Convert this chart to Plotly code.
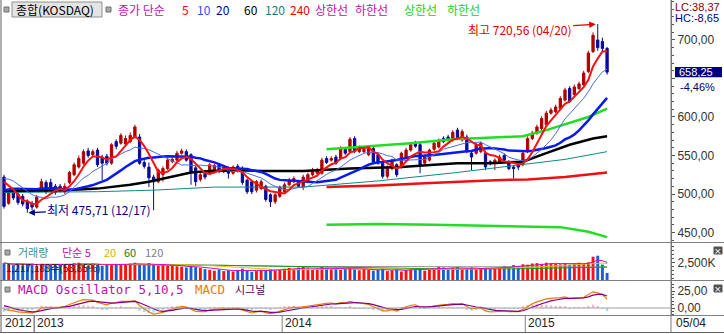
import plotly.graph_objects as go
import pandas as pd

W, H = 724, 334

# ---------------- data (weekly KOSDAQ, 2012-11-12 .. 2015-05-04) ----------------
opens = [522, 488, 503, 500, 497, 490, 488, 483, 505, 515, 515, 510, 510, 503, 515, 525, 535, 540, 556, 551,
         557, 548, 549, 540, 568, 566, 565, 568, 574, 574, 541, 535, 522, 516, 525, 533, 542, 544, 553, 555,
         551, 534, 519, 529, 527, 529, 538, 529, 533, 527, 536, 533, 518, 516, 505, 507, 510, 499, 490, 497,
         503, 512, 516, 516, 509, 516, 525, 527, 527, 546, 544, 548, 546, 558, 555, 572, 555, 555, 551, 559,
         551, 540, 523, 533, 538, 535, 548, 557, 566, 564, 540, 544, 558, 561, 572, 574, 570, 583, 570, 574,
         553, 553, 555, 553, 542, 540, 542, 550, 542, 535, 537, 538, 555, 572, 579, 585, 590, 605, 607, 611,
         622, 637, 629, 637, 642, 659, 685, 700, 698, 689]
highs = [525, 506, 507, 503, 500, 493, 491, 499, 520, 518, 520, 513, 513, 514, 530, 541, 550, 558, 560, 558,
         560, 551, 552, 566, 571, 579, 576, 580, 590, 578, 544, 541, 525, 533, 536, 547, 548, 556, 559, 558,
         553, 537, 527, 531, 540, 539, 540, 537, 536, 537, 539, 536, 520, 518, 518, 519, 512, 501, 501, 511,
         515, 521, 523, 518, 525, 528, 534, 534, 547, 549, 549, 551, 562, 561, 574, 575, 563, 561, 562, 562,
         553, 542, 537, 546, 540, 555, 560, 567, 569, 567, 551, 559, 568, 572, 575, 577, 583, 586, 584, 577,
         555, 566, 568, 556, 544, 546, 551, 553, 544, 537, 539, 555, 575, 582, 590, 601, 608, 612, 616, 627,
         638, 640, 642, 646, 660, 686, 710, 720.56, 703, 691]
lows = [481, 486, 492, 486, 484, 475.71, 479, 481, 503, 500, 503, 499, 502, 500, 513, 523, 533, 538, 547, 548,
        535, 518, 537, 538, 558, 564, 563, 566, 572, 538, 533, 509, 479, 514, 516, 531, 540, 542, 551, 542,
        512, 510, 516, 519, 525, 527, 527, 527, 520, 525, 528, 512, 500, 500, 502, 505, 490, 483, 487, 495,
        500, 510, 514, 508, 505, 514, 523, 525, 525, 539, 542, 538, 544, 551, 553, 553, 553, 553, 549, 540,
        538, 520, 520, 531, 522, 533, 546, 555, 560, 527, 538, 542, 556, 559, 566, 568, 568, 571, 568, 553,
        531, 551, 553, 531, 537, 531, 540, 542, 531, 520, 531, 536, 553, 570, 577, 583, 588, 603, 605, 609,
        620, 618, 626, 635, 640, 657, 683, 686, 684, 655]
closes = [484, 503, 495, 489, 487, 481, 483, 496, 516, 503, 506, 502, 505, 510, 528, 538, 546, 555, 550, 555,
          538, 540, 540, 564, 562, 576, 572, 576, 587, 540, 536, 521, 516, 531, 533, 544, 545, 553, 556, 544,
          529, 516, 525, 522, 538, 537, 529, 535, 527, 535, 530, 515, 503, 503, 516, 516, 493, 490, 499, 509,
          512, 518, 520, 510, 522, 525, 531, 531, 544, 541, 546, 540, 559, 553, 571, 555, 561, 558, 559, 542,
          540, 523, 535, 544, 525, 553, 557, 564, 562, 538, 548, 557, 566, 569, 568, 570, 580, 573, 581, 555,
          548, 564, 566, 535, 540, 544, 548, 544, 533, 533, 535, 553, 572, 579, 587, 598, 605, 609, 613, 624,
          635, 620, 639, 643, 657, 683, 706, 690, 689, 658.25]
volumes = [2450, 2300, 2200, 2380, 2150, 2250, 2400, 2100, 2350, 2200, 2300, 2150, 2250,
           2200, 2350, 2450, 2500, 2300, 2150, 2400, 2250, 2100, 2300, 2200, 2350, 2250,
           2300, 2400, 2500, 2350, 2200, 2450, 2300, 2150, 2250, 2100, 2200, 2050,
           2000, 1900, 2100, 1950, 1850,
           1700, 1600, 1500, 1650, 1450, 1550, 1400, 1600, 1750, 1500, 1350, 1450, 1600, 1550, 1700, 1500, 1650,
           1750, 1850, 1700, 1900, 2000, 1800, 1650, 1750, 1950, 1850, 1700, 1800, 1600, 1750, 1900, 1650, 1550, 1700,
           1600, 1500, 1650, 1750, 1450, 1550, 1700, 1400, 1600, 1750, 1650, 1800, 1500, 1600,
           1800, 2000, 1900, 1700, 1850, 1950, 1750, 1800, 1900, 1650, 1750, 1850, 1700, 1800, 1900,
           2100, 2000, 2200, 2050, 2300, 2250,
           2400, 2450, 2350, 2500, 2420, 2380,
           2300, 2450, 2250, 2400, 2500, 2350, 2550,
           3250, 3375, 2260, 1217]
# closes of the weeks before the first visible candle (for the short averages)
pre_closes = [478, 482, 488, 492, 495, 490, 487, 493, 497, 498, 510, 520, 528, 533, 530, 525, 522, 524, 524]

# long averages / bands (week index, value)
ma60_wk = [0, 13, 20, 27, 31, 36, 40, 44, 50, 55, 64, 74, 85, 92, 97, 104, 111, 116, 121, 126, 129]
ma60_val = [504, 505, 507, 512, 516, 523, 528, 530, 531, 530, 530, 533, 535, 538, 540, 540, 542, 553, 564, 572, 575]
ma120_wk = [0, 20, 32, 45, 64, 80, 97, 111, 120, 129]
ma120_val = [502, 503, 505, 509, 509, 517, 528, 538, 545, 555]
ma240_wk = [69, 80, 90, 97, 105, 112, 120, 129]
ma240_val = [509, 511, 514, 516, 518, 519, 522, 528]
band_up_wk = [69, 87, 96, 111, 116, 121, 125, 129]
band_up_val = [558, 566, 571, 575, 583, 592, 600, 611]
band_lo_wk = [69, 80, 92, 103, 112, 119, 125, 129]
band_lo_val = [460, 461, 460, 459, 458, 457, 451, 444]

year_labels = ["2013", "2014", "2015"]
year_weeks = [7, 60, 112]

# ---------------- derived series ----------------
n = len(closes)
wk = list(range(n))
npre = len(pre_closes)
allc = pd.Series(pre_closes + closes, dtype=float)
ma5 = allc.rolling(5).mean().iloc[npre:].tolist()
ma10 = allc.rolling(10).mean().iloc[npre:].tolist()
ma20 = allc.rolling(20).mean().iloc[npre:].tolist()
ema5 = allc.ewm(span=5, adjust=False).mean()
ema10 = allc.ewm(span=10, adjust=False).mean()
macd_s = ema5 - ema10
sig_s = macd_s.ewm(span=5, adjust=False).mean()
macd = macd_s.iloc[npre:].tolist()
sig = sig_s.iloc[npre:].tolist()
osc = [m - s for m, s in zip(macd, sig)]
vs = pd.Series(volumes, dtype=float)
v5 = vs.rolling(5, min_periods=1).mean().tolist()
v20 = vs.rolling(20, min_periods=1).mean().tolist()
v60 = vs.rolling(60, min_periods=1).mean().tolist()
v120 = vs.rolling(120, min_periods=1).mean().tolist()
vcol = ['#ff1010' if c >= o else '#1560d8' for o, c in zip(opens, closes)]
ocol = ['#f4b8c8' if v >= 0 else '#a8d8f0' for v in osc]

# ---------------- geometry helpers ----------------
def px(x):
    return x / W


def py(y):
    return 1 - y / H

X_L, X_R = 2, 671
SP = 4.675  # pixels per week
x0 = (X_L - 4) / SP
x1 = (X_R - 4) / SP

fig = go.Figure()

LN = dict(xaxis='x', yaxis='y', mode='lines', hoverinfo='skip', showlegend=False)
fig.add_trace(go.Scatter(x=band_lo_wk, y=band_lo_val, line=dict(color='#22dd22', width=2.5), **LN))
fig.add_trace(go.Scatter(x=band_up_wk, y=band_up_val, line=dict(color='#22dd22', width=2.5), **LN))
fig.add_trace(go.Scatter(x=ma240_wk, y=ma240_val, line=dict(color='#ee1111', width=2.5), **LN))
fig.add_trace(go.Scatter(x=ma120_wk, y=ma120_val, line=dict(color='#108888', width=1), **LN))
fig.add_trace(go.Scatter(x=ma60_wk, y=ma60_val, line=dict(color='#000000', width=2.5), **LN))

fig.add_trace(go.Candlestick(
    x=wk, open=opens, high=highs, low=lows, close=closes, xaxis='x', yaxis='y',
    increasing=dict(line=dict(color='#b00000', width=1), fillcolor='#b00000'),
    decreasing=dict(line=dict(color='#0a0a9a', width=1), fillcolor='#0a0a9a'),
    whiskerwidth=0, showlegend=False, hoverinfo='skip'))

fig.add_trace(go.Scatter(x=wk, y=ma20, line=dict(color='#0a1aee', width=2.5), **LN))
fig.add_trace(go.Scatter(x=wk, y=ma10, line=dict(color='#4a6cf0', width=1), **LN))
fig.add_trace(go.Scatter(x=wk, y=ma5, line=dict(color='#ff1010', width=2), **LN))

# volume
fig.add_trace(go.Bar(x=wk, y=volumes, marker=dict(color=vcol, line=dict(width=0)), width=0.62,
                     xaxis='x', yaxis='y2', showlegend=False, hoverinfo='skip'))
LV = dict(xaxis='x', yaxis='y2', mode='lines', hoverinfo='skip', showlegend=False)
fig.add_trace(go.Scatter(x=wk, y=v120, line=dict(color='#909090', width=1), **LV))
fig.add_trace(go.Scatter(x=wk, y=v60, line=dict(color='#10a010', width=1), **LV))
fig.add_trace(go.Scatter(x=wk, y=v20, line=dict(color='#e8c000', width=1), **LV))
fig.add_trace(go.Scatter(x=wk, y=v5, line=dict(color='#d010c0', width=1), **LV))

# MACD
fig.add_trace(go.Bar(x=wk, y=osc, marker=dict(color=ocol, line=dict(width=0)), width=0.5,
                     xaxis='x', yaxis='y3', showlegend=False, hoverinfo='skip'))
LM = dict(xaxis='x', yaxis='y3', mode='lines', hoverinfo='skip', showlegend=False)
fig.add_trace(go.Scatter(x=wk, y=macd, line=dict(color='#f07800', width=1.2), **LM))
fig.add_trace(go.Scatter(x=wk, y=sig, line=dict(color='#800080', width=1.2), **LM))

AX = dict(side='right', anchor='x', showline=True, linecolor='#777', linewidth=1, showgrid=False,
          zeroline=False, ticks='outside', ticklen=3, tickcolor='#555',
          tickfont=dict(family='Liberation Sans, Arial', size=12, color='#333'))
main_ticks = [450, 500, 550, 600, 650, 700]
main_text = ['450,00', '500,00', '550,00', '600,00', '', '700,00']

fig.update_layout(
    width=W, height=H, margin=dict(l=0, r=0, t=0, b=0),
    paper_bgcolor='white', plot_bgcolor='white', showlegend=False,
    xaxis=dict(domain=[px(X_L), px(X_R)], range=[x0, x1], showgrid=False, zeroline=False,
               showticklabels=False, ticks='', showline=False, anchor='y3', rangeslider=dict(visible=False)),
    yaxis=dict(domain=[py(242), 1], range=[437.7, 751.9], tickvals=main_ticks, ticktext=main_text,
               minor=dict(dtick=10, ticks='outside', ticklen=2, tickcolor='#555'), **AX),
    yaxis2=dict(domain=[py(280), py(243)], range=[337, 4962], tickvals=[2500, 5000], ticktext=['2,500K', ''],
                minor=dict(dtick=500, ticks='outside', ticklen=2, tickcolor='#555'), **AX),
    yaxis3=dict(domain=[py(315), py(281)], range=[-10.3, 39.7], tickvals=[0, 25], ticktext=['0,00', '25,00'],
                minor=dict(dtick=5, ticks='outside', ticklen=2, tickcolor='#555'), **AX),
)

shapes = []
def hline(y, x_a=0, x_b=W, color='#808080', w=1):
    shapes.append(dict(type='line', xref='paper', yref='paper', x0=px(x_a), x1=px(x_b), y0=py(y), y1=py(y),
                       line=dict(color=color, width=w)))

def vline(x, y_a, y_b, color='#808080', w=1, xref='paper'):
    xx = px(x) if xref == 'paper' else x
    shapes.append(dict(type='line', xref=xref, yref='paper', x0=xx, x1=xx, y0=py(y_a), y1=py(y_b),
                       line=dict(color=color, width=w)))

hline(242.5)
hline(280.5)
hline(315.5)
hline(332.5, color='#606060')
vline(1, 0, 333, color='#606060')
vline(X_R, 0, 333, color='#777')
for ywk in year_weeks:
    vline(ywk - 0.5, 316, 332, xref='x')
vline(34, 316, 332)
# zero line macd
shapes.append(dict(type='line', xref='paper', yref='y3', x0=px(X_L), x1=px(X_R), y0=0, y1=0,
                   line=dict(color='#a0a0a0', width=1)))
# small legend squares
def square(x, y, s=5, fill='#a8a8a8', edge='#707070'):
    shapes.append(dict(type='rect', xref='paper', yref='paper', x0=px(x), x1=px(x + s), y0=py(y), y1=py(y + s),
                       fillcolor=fill, line=dict(color=edge, width=1)))
square(4, 7)
square(106, 7)
square(5, 250)
square(5, 287)
# title button
shapes.append(dict(type='rect', xref='paper', yref='paper', x0=px(12), x1=px(102), y0=py(2), y1=py(17),
                   fillcolor='#e4e4e4', line=dict(color='#909090', width=1)))
# close boxes
for yb in (247, 285):
    shapes.append(dict(type='rect', xref='paper', yref='paper', x0=px(714), x1=px(722), y0=py(yb), y1=py(yb + 7),
                       fillcolor='#505050', line=dict(color='#505050', width=1)))
# current price box
shapes.append(dict(type='rect', xref='paper', yref='y', x0=px(675), x1=px(722), y0=651.5, y1=665,
                   fillcolor='#000080', line=dict(width=0)))
fig.update_layout(shapes=shapes)

ann = []
KR = 'Noto Sans CJK KR'
MONO = 'DejaVu Sans Mono, Noto Sans CJK KR'
LAT = 'Liberation Sans, Arial'
def txt(x, y, s, color='#000', size=11, family=KR, xanchor='left', **kw):
    ann.append(dict(x=px(x), y=py(y), xref='paper', yref='paper', text=s, showarrow=False, xanchor=xanchor,
                    yanchor='middle', font=dict(family=family, size=size, color=color), **kw))

txt(14, 9.5, '종합(KOSDAQ)', '#000', 12)
legend_items = [(116, '종가 단순', '#c010b0'), (180, '5', '#ff0000'), (195, '10', '#2a50ff'), (214, '20', '#000090'),
                (242, '60', '#000000'), (263, '120', '#108080'), (288, '240', '#ee0000'),
                (313, '상한선', '#c010b0'), (353, '하한선', '#c010b0'), (402, '상한선', '#20d020'), (445, '하한선', '#20d020')]
for x, s, c in legend_items:
    txt(x, 9.5, s, c, 12)
txt(673, 6.5, 'LC:38,37', '#800000', 11, LAT)
txt(673, 18.5, 'HC:-8,65', '#000080', 11, LAT)

txt(16, 252, '거래량', '#409090', 11)
for x, s, c in [(60, '단순 5', '#c010b0'), (102, '20', '#e0b000'), (122, '60', '#108010'), (143, '120', '#808080')]:
    txt(x, 252, s, c, 11)
txt(4, 267, '1,217,183주(53,85%)', '#222', 10)

txt(16, 289, 'MACD Oscillator 5,10,5', '#c010b0', 12.5, MONO)
txt(193, 289, 'MACD', '#f07800', 12.5, MONO)
txt(233, 289, '시그널', '#500050', 11)

txt(3, 323, '2012', '#222', 12, LAT)
for s, ywk in zip(year_labels, year_weeks):
    ann.append(dict(x=ywk - 0.5, y=py(323), xref='x', yref='paper', text=s, showarrow=False, xanchor='left',
                    yanchor='middle', xshift=1, font=dict(family=LAT, size=12, color='#222')))
txt(674, 323, '05/04', '#222', 12, LAT)

# price label
ann.append(dict(x=px(677), y=658.25, xref='paper', yref='y', text='658,25', showarrow=False, xanchor='left',
                yanchor='middle', font=dict(family=LAT, size=11, color='white')))
ann.append(dict(x=px(678), y=py(86.5), xref='paper', yref='paper', text='-4,46%', showarrow=False, xanchor='left',
                yanchor='middle', font=dict(family=LAT, size=11, color='#000060')))
for yb in (247, 285):
    txt(718, yb + 3.5, '×', 'white', 9, 'DejaVu Sans', xanchor='center')

# high / low markers
i_hi = highs.index(max(highs))
i_lo = lows.index(min(lows))
ann.append(dict(x=i_hi, y=highs[i_hi], xref='x', yref='y', text='최고 720,56 (04/20)', showarrow=True,
                arrowhead=2, arrowsize=1, arrowwidth=1.3, arrowcolor='#e00000', ax=-78, ay=5, standoff=2,
                font=dict(family=KR, size=12, color='#e00000')))
ann.append(dict(x=i_lo, y=lows[i_lo], xref='x', yref='y', text='최저 475,71 (12/17)', showarrow=True,
                arrowhead=2, arrowsize=1, arrowwidth=1.3, arrowcolor='#000090', ax=72, ay=-3, standoff=1,
                font=dict(family=KR, size=12, color='#000090')))
fig.update_layout(annotations=ann)

fig.write_html('out.html')
